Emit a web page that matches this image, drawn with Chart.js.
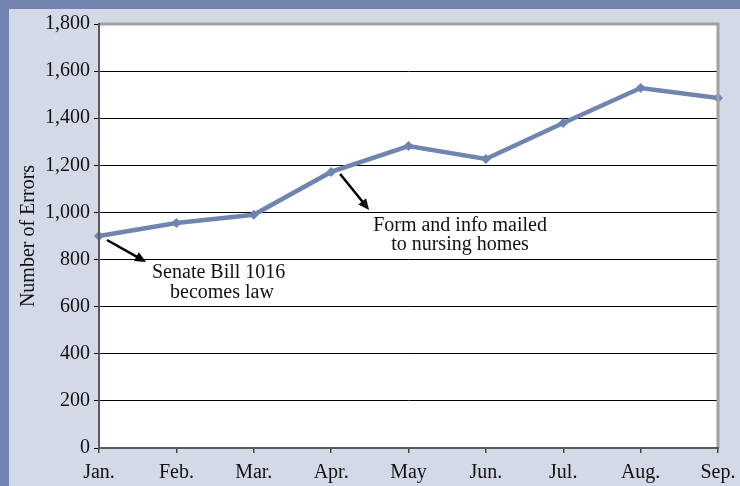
<!DOCTYPE html>
<html>
<head>
<meta charset="utf-8">
<script src="https://cdn.jsdelivr.net/npm/chart.js@4/dist/chart.umd.min.js"></script>
<style>
  html, body { margin: 0; padding: 0; }
  body { width: 740px; height: 486px; background: #7184b0; position: relative; overflow: hidden; }
  #wrap { position: absolute; left: 9px; top: 9px; width: 731px; height: 477px; background: #d3d9e6; }
</style>
</head>
<body>
<div id="wrap"><canvas id="chart" width="731" height="477"></canvas></div>
<script>
// data
const months = ['Jan.', 'Feb.', 'Mar.', 'Apr.', 'May', 'Jun.', 'Jul.', 'Aug.', 'Sep.'];
const errors = [900, 955, 990, 1172, 1282, 1227, 1380, 1528, 1486];
const yTicks = [0, 200, 400, 600, 800, 1000, 1200, 1400, 1600, 1800];
const notes = [
  { at: 0, lines: ['Senate Bill 1016', 'becomes law'] },
  { at: 3, lines: ['Form and info mailed', 'to nursing homes'] }
];

const FONT = '"Liberation Serif", "Times New Roman", serif';
const lineColor = '#7084b0';

// arrow + text placement relative to the data point it refers to
const noteStyle = [
  { tail: [8, 4], head: [47, 26], text: [[53, 42], [71, 62]] },
  { tail: [9, 2], head: [38, 38], text: [[42, 59], [60, 78]] }
];

function arrow(ctx, x1, y1, x2, y2) {
  const a = Math.atan2(y2 - y1, x2 - x1);
  const len = 11, w = 5;
  ctx.beginPath();
  ctx.moveTo(x1, y1);
  ctx.lineTo(x2 - Math.cos(a) * len * 0.8, y2 - Math.sin(a) * len * 0.8);
  ctx.stroke();
  ctx.beginPath();
  ctx.moveTo(x2, y2);
  ctx.lineTo(x2 - Math.cos(a) * len - Math.sin(a) * w, y2 - Math.sin(a) * len + Math.cos(a) * w);
  ctx.lineTo(x2 - Math.cos(a) * len + Math.sin(a) * w, y2 - Math.sin(a) * len - Math.cos(a) * w);
  ctx.closePath();
  ctx.fill();
}

const framePlugin = {
  id: 'frame',
  afterDatasetsDraw(chart) {
    const { ctx, chartArea: ca, scales } = chart;
    ctx.save();
    // grey frame top / right
    ctx.strokeStyle = '#a2a2a2';
    ctx.lineWidth = 3;
    ctx.beginPath();
    ctx.moveTo(ca.left, ca.top);
    ctx.lineTo(ca.right, ca.top);
    ctx.lineTo(ca.right, ca.bottom);
    ctx.stroke();
    // axis lines
    ctx.strokeStyle = '#5a5a5a';
    ctx.lineWidth = 2;
    ctx.beginPath();
    ctx.moveTo(ca.left, ca.top - 1);
    ctx.lineTo(ca.left, ca.bottom);
    ctx.lineTo(ca.right + 1, ca.bottom);
    ctx.stroke();

    // annotations
    ctx.strokeStyle = '#000';
    ctx.fillStyle = '#000';
    ctx.lineWidth = 2.5;
    ctx.font = '20px ' + FONT;
    ctx.textAlign = 'left';
    ctx.textBaseline = 'alphabetic';
    notes.forEach((n, i) => {
      const px = scales.x.getPixelForValue(n.at);
      const py = scales.y.getPixelForValue(errors[n.at]);
      const s = noteStyle[i];
      arrow(ctx, px + s.tail[0], py + s.tail[1], px + s.head[0], py + s.head[1]);
      n.lines.forEach((t, j) => {
        ctx.fillStyle = '#111';
        ctx.fillText(t, px + s.text[j][0], py + s.text[j][1]);
      });
    });
    ctx.restore();
  }
};

const bgPlugin = {
  id: 'plotbg',
  beforeDraw(chart) {
    const { ctx, chartArea: ca } = chart;
    ctx.save();
    ctx.fillStyle = '#ffffff';
    ctx.fillRect(ca.left, ca.top, ca.right - ca.left, ca.bottom - ca.top);
    ctx.restore();
  }
};

new Chart(document.getElementById('chart'), {
  type: 'line',
  data: {
    labels: months,
    datasets: [{
      data: errors,
      borderColor: lineColor,
      backgroundColor: lineColor,
      borderWidth: 4.5,
      pointStyle: 'rectRot',
      pointRadius: 5,
      pointBorderWidth: 0,
      tension: 0
    }]
  },
  options: {
    responsive: false,
    animation: false,
    devicePixelRatio: 1,
    layout: { padding: { top: 15, right: 22, left: 0, bottom: 0 } },
    plugins: { legend: { display: false }, tooltip: { enabled: false } },
    scales: {
      x: {
        offset: false,
        grid: { display: true, drawOnChartArea: false, drawTicks: true, tickLength: 5, color: '#444', lineWidth: 1.5 },
        border: { display: false },
        ticks: { color: '#111', font: { family: FONT, size: 20 }, padding: 8, maxRotation: 0, autoSkip: false },
        afterFit(s) { s.height = 38; s.paddingLeft = 0; s.paddingRight = 0; }
      },
      y: {
        min: 0,
        max: 1800,
        afterBuildTicks(s) { s.ticks = yTicks.map(v => ({ value: v })); },
        grid: { color: '#000', lineWidth: 1, tickLength: 5, drawTicks: true },
        border: { display: false },
        ticks: {
          color: '#111',
          font: { family: FONT, size: 20 },
          padding: 4,
          callback: v => v.toLocaleString('en-US')
        },
        title: { display: true, text: 'Number of Errors', color: '#111', font: { family: FONT, size: 20 }, padding: { top: 8, bottom: 0 } },
        afterFit(s) { s.width = 90; s.paddingTop = 0; s.paddingBottom = 0; }
      }
    }
  },
  plugins: [bgPlugin, framePlugin]
});
</script>
</body>
</html>
